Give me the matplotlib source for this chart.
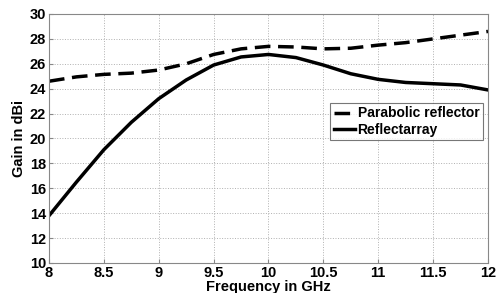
import numpy as np
import matplotlib
matplotlib.use("Agg")
import matplotlib.pyplot as plt

# Frequency in GHz
freq = [8.0, 8.25, 8.5, 8.75, 9.0, 9.25, 9.5, 9.75, 10.0,
        10.25, 10.5, 10.75, 11.0, 11.25, 11.5, 11.75, 12.0]
# Gain in dBi
parabolic = [24.6, 24.95, 25.15, 25.25, 25.5, 26.0, 26.75, 27.2, 27.4,
             27.35, 27.2, 27.25, 27.5, 27.7, 28.0, 28.3, 28.6]
reflectarray = [13.8, 16.5, 19.1, 21.3, 23.2, 24.7, 25.9, 26.55, 26.75,
                26.5, 25.9, 25.2, 24.75, 24.5, 24.4, 24.3, 23.9]

xticks = [8, 8.5, 9, 9.5, 10, 10.5, 11, 11.5, 12]
xticklabels = ['8', '8.5', '9', '9.5', '10', '10.5', '11', '11.5', '12']
yticks = [10, 12, 14, 16, 18, 20, 22, 24, 26, 28, 30]

plt.rcParams['font.family'] = ['Liberation Sans', 'DejaVu Sans']
plt.rcParams['font.weight'] = 'bold'

fig = plt.figure(figsize=(5.02, 2.93), dpi=100)
ax = fig.add_axes([49 / 502, 1 - 263 / 293, 439 / 502, 249 / 293])

ax.plot(freq, parabolic, color='black', lw=2.5, ls=(0, (4.5, 2.2)),
        dash_joinstyle='round', label='Parabolic reflector')
ax.plot(freq, reflectarray, color='black', lw=2.5, solid_joinstyle='round',
        label='Reflectarray')

ax.set_xlim(8, 12)
ax.set_ylim(10, 30)
ax.set_xticks(xticks)
ax.set_xticklabels(xticklabels)
ax.set_yticks(yticks)
ax.tick_params(direction='in', length=3, labelsize=10.5, pad=2, color='#888888')
for lab in ax.get_xticklabels() + ax.get_yticklabels():
    lab.set_fontweight('bold')
ax.grid(True, ls=':', color='#b0b0b0', lw=0.7)
for s in ax.spines.values():
    s.set_color('#888888')

ax.set_xlabel('Frequency in GHz', fontsize=10.5, fontweight='bold', labelpad=0)
ax.set_ylabel('Gain in dBi', fontsize=10.5, fontweight='bold', labelpad=3)

leg = ax.legend(loc='lower right', bbox_to_anchor=(0.988, 0.494), fontsize=10,
                frameon=True, fancybox=False, edgecolor='#555555',
                handlelength=1.5, handletextpad=0.2, borderpad=0.25,
                labelspacing=0.15, borderaxespad=0)
leg.get_frame().set_linewidth(0.8)
for t in leg.get_texts():
    t.set_fontweight('bold')

fig.savefig('out.png', dpi=100)
